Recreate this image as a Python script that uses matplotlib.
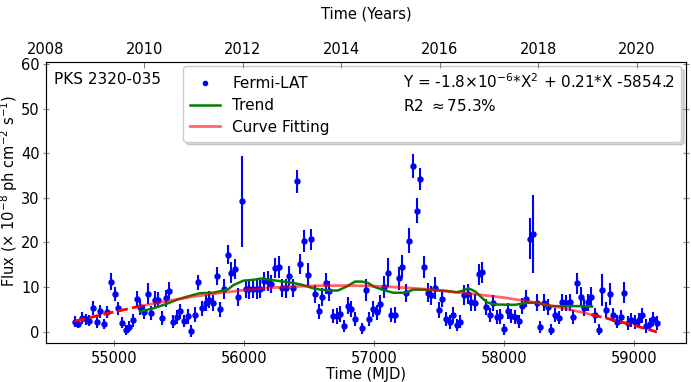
"""PKS 2320-035 Fermi-LAT light curve with trend and quadratic fit."""

import matplotlib

matplotlib.use("Agg")
import matplotlib.pyplot as plt
from matplotlib.lines import Line2D

plt.rcParams["font.family"] = ["DejaVu Sans"]
plt.rcParams["font.size"] = 10.5

# 28-day bins (MJD), one bin (56880) has no point.
mjd = [
    54696, 54724, 54752, 54780, 54808, 54836, 54864, 54892, 54920, 54948,
    54976, 55004, 55032, 55060, 55088, 55116, 55144, 55172, 55200, 55228,
    55256, 55284, 55312, 55340, 55368, 55396, 55424, 55452, 55480, 55508,
    55536, 55564, 55592, 55620, 55648, 55676, 55704, 55732, 55760, 55788,
    55816, 55844, 55872, 55900, 55928, 55956, 55984, 56012, 56040, 56068,
    56096, 56124, 56152, 56180, 56208, 56236, 56264, 56292, 56320, 56348,
    56376, 56404, 56432, 56460, 56488, 56516, 56544, 56572, 56600, 56628,
    56656, 56684, 56712, 56740, 56768, 56796, 56824, 56852, 56908,
    56936, 56964, 56992, 57020, 57048, 57076, 57104, 57132, 57160, 57188,
    57216, 57244, 57272, 57300, 57328, 57356, 57384, 57412, 57440, 57468,
    57496, 57524, 57552, 57580, 57608, 57636, 57664, 57692, 57720, 57748,
    57776, 57804, 57832, 57860, 57888, 57916, 57944, 57972, 58000, 58028,
    58056, 58084, 58112, 58140, 58168, 58196, 58224, 58252, 58280, 58308,
    58336, 58364, 58392, 58420, 58448, 58476, 58504, 58532, 58560, 58588,
    58616, 58644, 58672, 58700, 58728, 58756, 58784, 58812, 58840, 58868,
    58896, 58924, 58952, 58980, 59008, 59036, 59064, 59092, 59120, 59148,
    59176,
]
flux = [
    2.2, 1.8, 3.0, 2.7, 2.4, 5.3, 2.1, 4.5, 1.7, 4.4,
    11.2, 8.4, 5.2, 2.0, 0.4, 1.1, 2.5, 7.2, 5.5, 4.4,
    8.5, 4.1, 7.1, 7.1, 3.0, 7.5, 9.2, 2.2, 3.3, 4.5,
    2.4, 3.4, 0.1, 3.8, 11.0, 5.2, 6.5, 7.1, 6.5, 12.5,
    5.0, 9.5, 17.2, 13.2, 14.0, 7.8, 29.2, 9.6, 9.5, 9.6,
    9.5, 9.6, 11.3, 11.4, 10.7, 14.3, 14.5, 9.7, 9.7, 12.5,
    9.7, 33.7, 15.1, 20.3, 12.7, 20.7, 8.4, 4.5, 7.7, 10.8,
    9.1, 3.5, 3.5, 4.0, 1.2, 5.8, 5.1, 2.8, 0.7,
    9.3, 2.8, 5.0, 4.3, 6.2, 10.0, 13.2, 3.7, 3.7, 11.9,
    14.5, 8.7, 20.4, 37.1, 27.1, 34.2, 14.5, 8.7, 8.1, 9.8,
    4.9, 7.4, 2.8, 2.1, 3.7, 1.5, 2.2, 8.2, 8.4, 6.7,
    6.5, 12.8, 13.3, 5.6, 3.7, 6.4, 3.3, 3.4, 0.5, 4.6,
    3.5, 3.2, 2.3, 5.7, 7.4, 20.8, 21.9, 6.5, 1.0, 6.5,
    5.5, 0.4, 3.7, 3.1, 6.6, 6.4, 6.6, 3.2, 10.8, 7.8,
    5.3, 6.6, 7.8, 3.6, 0.4, 9.4, 4.9, 8.4, 3.7, 2.2,
    3.3, 8.7, 1.9, 2.6, 2.1, 2.6, 3.6, 1.2, 1.6, 2.8,
    1.9,
]
flux_err = [
    1.2, 1.1, 1.3, 1.2, 1.2, 1.6, 1.3, 1.5, 1.2, 1.4,
    1.9, 1.6, 1.5, 1.3, 1.1, 1.2, 1.5, 1.8, 1.7, 1.6,
    2.3, 1.6, 1.9, 1.8, 1.5, 1.9, 2.0, 1.4, 1.5, 1.7,
    1.4, 1.6, 1.3, 1.6, 1.7, 1.7, 1.8, 1.9, 1.8, 2.0,
    1.7, 2.2, 2.1, 2.3, 2.3, 2.0, 10.2, 2.0, 2.1, 2.0,
    2.1, 2.0, 2.1, 2.2, 2.0, 2.2, 2.5, 2.0, 2.1, 2.2,
    2.0, 2.6, 2.2, 2.4, 2.6, 2.4, 2.0, 1.7, 2.0, 2.4,
    2.2, 1.6, 1.7, 1.8, 1.4, 1.9, 1.8, 1.6, 1.2,
    2.4, 1.6, 1.8, 1.7, 1.9, 2.4, 3.3, 1.6, 1.7, 2.6,
    2.6, 2.0, 2.8, 2.7, 2.8, 2.4, 2.5, 2.1, 2.2, 2.4,
    1.8, 2.0, 1.6, 1.5, 1.7, 1.3, 1.5, 2.3, 2.2, 2.0,
    1.9, 2.4, 2.4, 1.8, 1.6, 1.9, 1.6, 1.6, 1.2, 1.8,
    1.6, 1.6, 1.5, 1.8, 2.0, 4.6, 8.8, 1.9, 1.4, 1.9,
    1.8, 1.2, 1.6, 1.5, 1.9, 1.9, 1.9, 1.6, 2.4, 2.2,
    1.9, 1.9, 2.1, 1.6, 1.2, 3.6, 1.8, 2.4, 1.6, 1.5,
    1.6, 2.4, 1.5, 1.6, 1.5, 1.6, 1.7, 1.5, 1.5, 1.6,
    1.5,
]

# smoothed trend (green)
trend_mjd = [
    55198, 55300, 55403, 55480, 55557, 55660, 55762, 55839, 55878, 55916,
    55993, 56070, 56135, 56199, 56276, 56378, 56455, 56520, 56583, 56660,
    56722, 56789, 56853, 56907, 56953, 56994, 57071, 57148, 57238, 57302,
    57353, 57456, 57559, 57636, 57687, 57725, 57777, 57828, 57867, 57918,
    58021, 58085, 58162, 58252, 58354, 58483, 58585, 58677,
]
trend_flux = [
    4.5, 5.2, 6.2, 7.1, 7.8, 8.6, 8.7, 9.2, 9.5, 10.4,
    11.4, 11.6, 11.9, 11.6, 11.3, 10.9, 10.4, 9.8, 9.4, 9.2,
    9.2, 10.1, 11.2, 11.2, 10.9, 10.1, 9.3, 8.7, 8.7, 9.4,
    9.4, 9.3, 9.1, 8.8, 9.2, 9.7, 9.0, 7.6, 6.6, 6.1,
    6.0, 6.0, 6.4, 6.5, 5.7, 5.7, 5.7, 5.6,
]

# quadratic fit curve (red), solid inside the trend range, dashed outside
fit_mjd = [
    54696, 54850, 55000, 55200, 55400, 55600, 55800, 56000, 56200, 56400,
    56600, 56800, 57000, 57200, 57400, 57600, 57800, 58000, 58200, 58400,
    58600, 58672, 58800, 59000, 59176,
]
fit_flux = [
    2.3, 3.4, 4.4, 5.7, 6.8, 7.8, 8.6, 9.3, 9.8, 10.1,
    10.3, 10.3, 10.2, 9.9, 9.5, 8.9, 8.3, 7.6, 6.7, 5.6,
    4.3, 3.8, 2.9, 1.4, -0.1,
]

year_ticks = [2008, 2010, 2012, 2014, 2016, 2018, 2020]

fig = plt.figure(figsize=(6.91, 3.82), dpi=100)
ax = fig.add_axes([0.0666, 0.1029, 0.9262, 0.7356])

ax.errorbar(mjd, flux, yerr=flux_err, fmt="o", color="blue", ms=3.6,
            elinewidth=1.5, capsize=0, zorder=2)
ax.plot(trend_mjd, trend_flux, color="green", lw=1.8, zorder=3)
ax.plot(fit_mjd[3:22], fit_flux[3:22], color="red", alpha=0.6, lw=2, zorder=4)
ax.plot(fit_mjd[:4], fit_flux[:4], color="red", ls="--", lw=2, zorder=4)
ax.plot(fit_mjd[21:], fit_flux[21:], color="red", ls="--", lw=2, zorder=4)

ax.set_xlim(54475, 59400)
ax.set_ylim(-2.5, 60.5)
ax.set_xticks([55000, 56000, 57000, 58000, 59000])
ax.set_xlabel("Time (MJD)", labelpad=1)
ax.set_ylabel(r"Flux ($\times$ 10$^{-8}$ ph cm$^{-2}$ s$^{-1}$)", fontsize=10.5)
ax.yaxis.set_label_coords(-0.041, 0.54)
ax.tick_params(direction="inout", right=True, color="gray", length=5)
ax.tick_params(axis="y", pad=2)
for sp in ax.spines.values():
    sp.set_color("gray")

ax.text(0.013, 0.935, "PKS 2320-035", transform=ax.transAxes, va="center",
        fontsize=11)

handles = [
    Line2D([], [], ls="none", marker=".", color="blue", ms=6),
    Line2D([], [], color="green", lw=1.8),
    Line2D([], [], color="red", alpha=0.6, lw=2),
    Line2D([], [], ls="none"),
    Line2D([], [], ls="none"),
    Line2D([], [], ls="none"),
]
labels = [
    "Fermi-LAT", "Trend", "Curve Fitting",
    r"Y = -1.8$\times$10$^{-6}$*X$^2$ + 0.21*X -5854.2",
    r"R2 $\approx$75.3%", " ",
]
ax.legend(handles, labels, ncol=2, loc="upper right", fontsize=11,
          shadow={"color": "gray", "alpha": 0.3},
          borderaxespad=0.3, handletextpad=0.8, labelspacing=0.45)

top = ax.twiny()
top.set_xlim(2008, 2021)
top.set_xticks(year_ticks)
top.set_xlabel("Time (Years)", labelpad=17)
top.tick_params(direction="in", color="gray", length=4)

fig.savefig("out.png", dpi=100)
